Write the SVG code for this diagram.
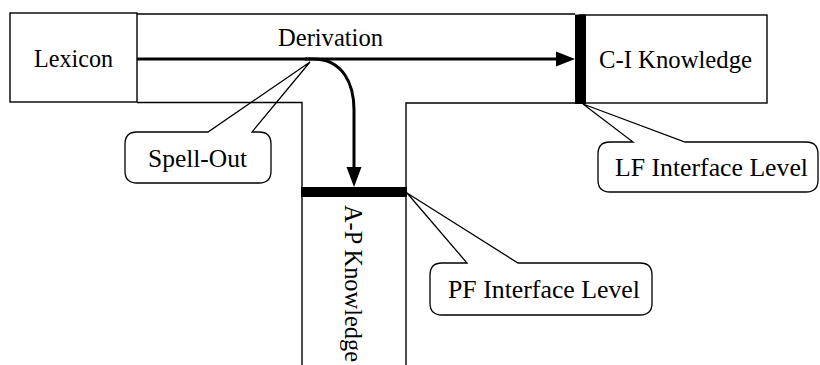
<svg xmlns="http://www.w3.org/2000/svg" width="820" height="365" viewBox="0 0 820 365">
<style>
  .ln{fill:none;stroke:#000;stroke-width:1.4}
  .box{fill:#fff;stroke:#000;stroke-width:1.4}
  .bar{fill:#000}
  .arr{fill:none;stroke:#000;stroke-width:3}
  .head{fill:#000}
  .co{fill:#fff;stroke:#000;stroke-width:1.3;stroke-linejoin:miter}
  text{font-family:"Liberation Serif","DejaVu Serif",serif;font-size:25px;fill:#000}
</style>
<rect width="820" height="365" fill="#fff"/>
<g id="callouts">
  <g id="spellout">
    <path class="co" d="M137 132 L208 132 L310 62 L252 132 L259 132 Q271 132 271 144 L271 171 Q271 183 259 183 L137 183 Q125 183 125 171 L125 144 Q125 132 137 132 Z"/>
    <text x="148" y="167" textLength="99" lengthAdjust="spacingAndGlyphs">Spell-Out</text>
  </g>
  <g id="lf-interface">
    <path class="co" d="M610 142 L633 142 L583 104 L685 142 L806 142 Q818 142 818 154 L818 180 Q818 192 806 192 L610 192 Q598 192 598 180 L598 154 Q598 142 610 142 Z"/>
    <text x="615" y="176" textLength="193" lengthAdjust="spacingAndGlyphs">LF Interface Level</text>
  </g>
  <g id="pf-interface">
    <path class="co" d="M442 263 L467 263 L407 193 L518 263 L640 263 Q652 263 652 275 L652 303 Q652 315 640 315 L442 315 Q430 315 430 303 L430 275 Q430 263 442 263 Z"/>
    <text x="448" y="298" textLength="192" lengthAdjust="spacingAndGlyphs">PF Interface Level</text>
  </g>
</g>
<g id="derivation">
  <path class="ln" d="M137 14 L575 14"/>
  <path class="ln" d="M137 102.5 L302 102.5 L302 365"/>
  <path class="ln" d="M575 103 L406 103 L406 365"/>
  <text x="278" y="46" textLength="105" lengthAdjust="spacingAndGlyphs">Derivation</text>
</g>
<g id="lexicon">
  <rect class="box" x="10" y="13" width="127" height="89"/>
  <text x="34" y="67" textLength="79" lengthAdjust="spacingAndGlyphs">Lexicon</text>
</g>
<g id="ci-knowledge">
  <rect class="box" x="580" y="15" width="187" height="88"/>
  <rect class="bar" x="575" y="14.5" width="11" height="89.5"/>
  <text x="599" y="68" textLength="153" lengthAdjust="spacingAndGlyphs">C-I Knowledge</text>
</g>
<g id="ap-knowledge">
  <rect class="bar" x="301" y="187" width="106" height="10"/>
  <text transform="translate(345,205) rotate(90)" x="0" y="0" textLength="157" lengthAdjust="spacingAndGlyphs">A-P Knowledge</text>
</g>
<g id="connectors">
  <path class="arr" d="M137 59 L558 59"/>
  <polygon class="head" points="556,51.5 575,59 556,66.5"/>
  <path class="arr" d="M305 59 L313 59 C343 59 354 84 354 110 L354 169"/>
  <polygon class="head" points="346.5,167 361.5,167 354,187"/>
</g>
</svg>
